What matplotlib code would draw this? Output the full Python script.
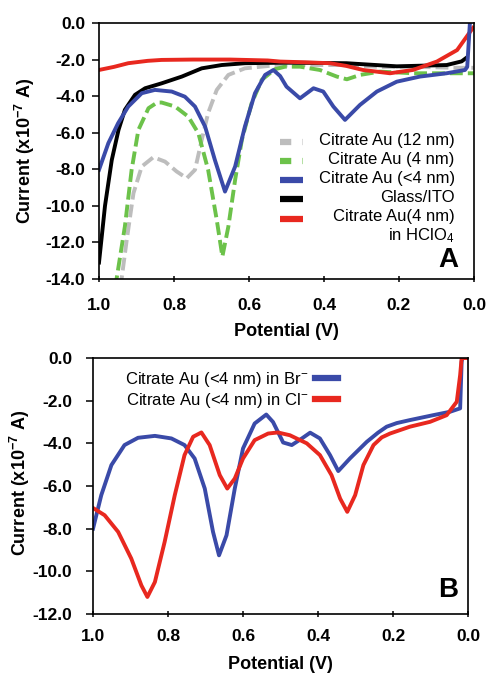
import matplotlib
matplotlib.use("Agg")
import matplotlib.pyplot as plt

plt.rcParams["font.family"] = "Liberation Sans"
plt.rcParams["axes.unicode_minus"] = False
plt.rcParams["mathtext.fontset"] = "custom"
plt.rcParams["mathtext.rm"] = "Liberation Sans"
plt.rcParams["mathtext.bf"] = "Liberation Sans:bold"
plt.rcParams["mathtext.default"] = "regular"

# ---- panel A data (potential in V, current in 1e-7 A) ----
a_gray_x = [0.943, 0.926, 0.908, 0.886, 0.855, 0.824, 0.793, 0.766, 0.744, 0.726,
            0.709, 0.686, 0.655, 0.611, 0.548, 0.45, 0.35, 0.25, 0.15, 0.05, 0.0]
a_gray_y = [-14.5, -11.86, -9.3, -7.85, -7.34, -7.58, -8.12, -8.49, -8.03, -6.39,
            -4.93, -3.66, -2.84, -2.48, -2.35, -2.3, -2.3, -2.4, -2.4, -2.45, -2.45]

a_green_x = [0.957, 0.931, 0.913, 0.895, 0.868, 0.845, 0.833, 0.797, 0.762, 0.735,
             0.709, 0.686, 0.671, 0.655, 0.637, 0.619, 0.593, 0.566, 0.531, 0.504,
             0.464, 0.411, 0.366, 0.339, 0.304, 0.251, 0.162, 0.073, 0.0]
a_green_y = [-14.5, -11.13, -8.03, -5.85, -4.66, -4.35, -4.35, -4.57, -5.12, -6.03,
             -8.03, -10.77, -12.77, -11.13, -8.58, -6.39, -4.39, -3.11, -2.53, -2.39,
             -2.39, -2.57, -2.93, -3.08, -2.84, -2.66, -2.75, -2.75, -2.75]

a_blue_x = [1.0, 0.975, 0.949, 0.922, 0.886, 0.851, 0.806, 0.771, 0.744, 0.717,
            0.691, 0.664, 0.637, 0.611, 0.584, 0.557, 0.535, 0.517, 0.5, 0.464,
            0.428, 0.402, 0.375, 0.344, 0.304, 0.259, 0.206, 0.144, 0.073, 0.024,
            0.018, 0.011, 0.009]
a_blue_y = [-8.03, -6.57, -5.48, -4.57, -3.84, -3.66, -3.75, -4.03, -4.57, -5.67,
            -7.49, -9.22, -7.85, -5.67, -3.84, -2.84, -2.57, -2.9, -3.48, -4.12,
            -3.57, -3.75, -4.57, -5.3, -4.48, -3.75, -3.21, -2.93, -2.75, -2.57,
            -2.4, -0.02, 0.3]

a_black_x = [1.0, 0.984, 0.966, 0.948, 0.931, 0.904, 0.877, 0.833, 0.779, 0.726,
             0.673, 0.611, 0.504, 0.34, 0.206, 0.073, 0.033, 0.02]
a_black_y = [-13.1, -10.0, -7.5, -5.85, -4.75, -3.93, -3.57, -3.3, -2.93, -2.48,
             -2.3, -2.2, -2.17, -2.2, -2.37, -2.3, -2.1, -1.9]

a_red_x = [1.0, 0.96, 0.922, 0.87, 0.833, 0.75, 0.65, 0.55, 0.517, 0.45, 0.384,
           0.34, 0.296, 0.224, 0.163, 0.099, 0.045, 0.003]
a_red_y = [-2.57, -2.4, -2.2, -2.07, -2.02, -2.0, -2.0, -2.05, -2.11, -2.15, -2.2,
           -2.35, -2.57, -2.75, -2.57, -2.11, -1.48, -0.27]

a_labels = ["Citrate Au (12 nm)", "Citrate Au (4 nm)", "Citrate Au (<4 nm)",
            "Glass/ITO", "Citrate Au(4 nm)\nin HClO$_4$"]

# ---- panel B data ----
b_blue_x = [1.0, 0.978, 0.951, 0.916, 0.88, 0.835, 0.791, 0.756, 0.729, 0.702,
            0.68, 0.664, 0.644, 0.622, 0.6, 0.569, 0.538, 0.52, 0.493, 0.47,
            0.443, 0.421, 0.395, 0.368, 0.346, 0.315, 0.27, 0.24, 0.217, 0.19,
            0.155, 0.12, 0.093, 0.048, 0.021, 0.017, 0.015, 0.0]
b_blue_y = [-8.0, -6.43, -5.02, -4.08, -3.74, -3.65, -3.77, -4.08, -4.71, -6.12,
            -8.15, -9.25, -8.31, -6.12, -4.24, -3.07, -2.65, -3.0, -3.96, -4.08,
            -3.77, -3.5, -3.77, -4.55, -5.3, -4.71, -3.93, -3.5, -3.22, -3.05,
            -2.91, -2.78, -2.68, -2.52, -2.36, -0.17, 0.0, 0.0]

b_red_x = [1.0, 0.969, 0.933, 0.898, 0.871, 0.855, 0.835, 0.809, 0.782, 0.756,
           0.733, 0.711, 0.689, 0.662, 0.642, 0.622, 0.6, 0.569, 0.533, 0.507,
           0.475, 0.43, 0.395, 0.364, 0.341, 0.322, 0.301, 0.279, 0.252, 0.23,
           0.208, 0.155, 0.101, 0.057, 0.03, 0.021, 0.017, 0.0]
b_red_y = [-7.03, -7.37, -8.15, -9.4, -10.66, -11.2, -10.5, -8.62, -6.43, -4.55,
           -3.69, -3.49, -4.08, -5.49, -6.12, -5.65, -4.71, -3.85, -3.54, -3.49,
           -3.62, -4.0, -4.55, -5.49, -6.59, -7.21, -6.43, -5.02, -4.08, -3.72,
           -3.54, -3.22, -2.99, -2.68, -2.05, -0.8, 0.0, 0.0]

b_labels = ["Citrate Au (<4 nm) in Br$^{-}$", "Citrate Au (<4 nm) in Cl$^{-}$"]

x_ticks = [1.0, 0.8, 0.6, 0.4, 0.2, 0.0]
a_yticks = [0.0, -2.0, -4.0, -6.0, -8.0, -10.0, -12.0, -14.0]
b_yticks = [0.0, -2.0, -4.0, -6.0, -8.0, -10.0, -12.0]

GRAY = "#bdbdbd"
GREEN = "#6cc24a"
BLUE = "#3a4aa8"
BLACK = "#000000"
RED = "#e8281f"
LW = 2.8
DASH = (3.3, 1.3)


def style_axes(ax, yticks, xpad, ypad):
    ax.set_xlim(1.0, 0.0)
    ax.set_ylim(yticks[-1], yticks[0])
    ax.set_xticks(x_ticks)
    ax.set_yticks(yticks)
    ax.set_xticklabels([f"{v:.1f}" for v in x_ticks])
    ax.set_yticklabels([f"{v:.1f}" for v in yticks])
    for lab in ax.get_xticklabels() + ax.get_yticklabels():
        lab.set_fontweight("bold")
        lab.set_fontsize(12.5)
    ax.tick_params(axis="y", direction="out", length=5, width=1.1, pad=ypad)
    ax.tick_params(axis="x", direction="inout", length=4, width=1.1, pad=xpad)
    for sp in ax.spines.values():
        sp.set_linewidth(1.2)
    ax.set_xlabel("Potential (V)", fontsize=13, fontweight="bold")
    ax.set_ylabel(r"Current (x10$^{\mathbf{-7}}$ A)", fontsize=13, fontweight="bold")


fig = plt.figure(figsize=(4.86, 6.76), dpi=100)
axA = fig.add_axes([0.2037, 0.5873, 0.7716, 0.3787])
axB = fig.add_axes([0.1914, 0.0917, 0.7716, 0.3787])

# ---- panel A ----
axA.plot(a_gray_x, a_gray_y, color=GRAY, lw=LW, dashes=DASH)
axA.plot(a_green_x, a_green_y, color=GREEN, lw=LW, dashes=DASH)
axA.plot(a_black_x, a_black_y, color=BLACK, lw=LW)
axA.plot(a_red_x, a_red_y, color=RED, lw=LW)
axA.plot(a_blue_x, a_blue_y, color=BLUE, lw=LW)
style_axes(axA, a_yticks, 12, 5)
axA.yaxis.set_label_coords(-0.165, 0.5)
axA.xaxis.set_label_coords(0.5, -0.17)

# legend of panel A: keys on the left, text right aligned
key_colors = [GRAY, GREEN, BLUE, BLACK, RED]
key_dashed = [True, True, False, False, False]
row_y = 0.536
for lab, col, dashed in zip(a_labels, key_colors, key_dashed):
    if dashed:
        axA.plot([0.483, 0.544], [row_y, row_y], color=col, lw=4.5,
                 dashes=(1.8, 1.8), transform=axA.transAxes)
    else:
        axA.plot([0.483, 0.544], [row_y, row_y], color=col, lw=4.5,
                 solid_capstyle="butt", transform=axA.transAxes)
    axA.text(0.949, row_y + 0.036, lab, transform=axA.transAxes, ha="right",
             va="top", multialignment="right", fontsize=12, linespacing=1.15)
    row_y -= 0.075

axA.text(0.957, 0.045, "A", transform=axA.transAxes, ha="right", va="baseline",
         fontsize=20, fontweight="bold")

# ---- panel B ----
lb1, = axB.plot(b_blue_x, b_blue_y, color=BLUE, lw=LW)
lb2, = axB.plot(b_red_x, b_red_y, color=RED, lw=LW)
style_axes(axB, b_yticks, 9, 10)
axB.yaxis.set_label_coords(-0.163, 0.51)
axB.xaxis.set_label_coords(0.5, -0.165)

leg = axB.legend([lb1, lb2], b_labels, loc="upper left", bbox_to_anchor=(0.085, 0.955),
                 frameon=False, markerfirst=False, fontsize=12, handlelength=1.4,
                 handletextpad=0.4, labelspacing=0.12, borderpad=0, borderaxespad=0)
for h in leg.legend_handles:
    h.set_linewidth(4.5)

axB.text(0.973, 0.065, "B", transform=axB.transAxes, ha="right", va="baseline",
         fontsize=20, fontweight="bold")

fig.savefig("out.png", dpi=100)
